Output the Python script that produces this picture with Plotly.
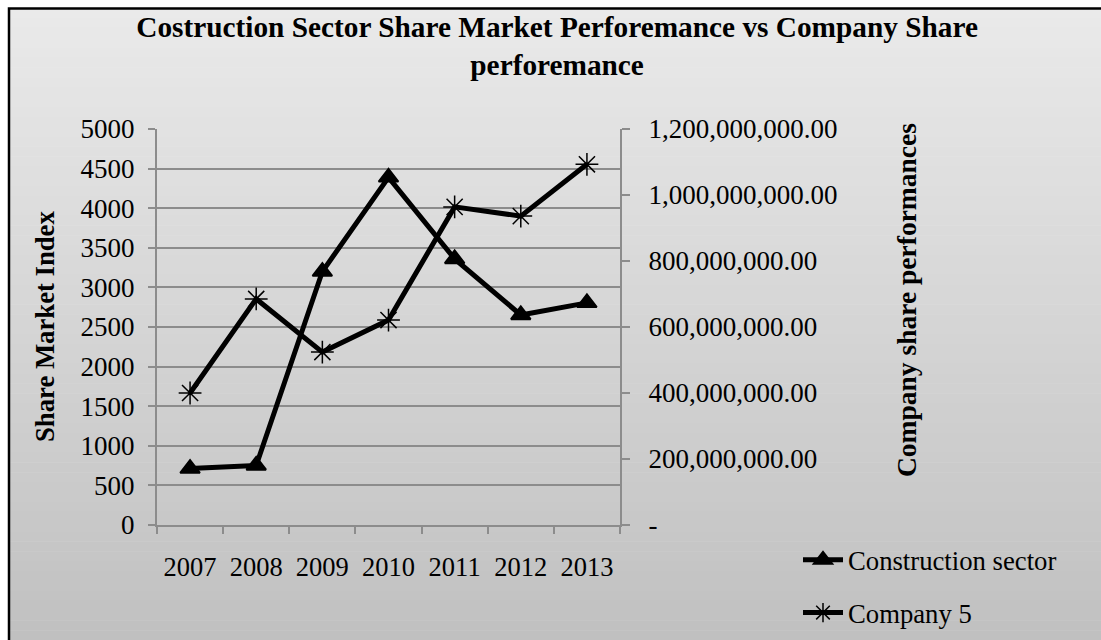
import plotly.graph_objects as go

years = ["2007", "2008", "2009", "2010", "2011", "2012", "2013"]
construction = [712, 752, 3200, 4390, 3360, 2652, 2805]
company5 = [400e6, 685e6, 524e6, 621e6, 964e6, 936e6, 1093e6]

left_ticks = list(range(0, 5001, 500))
right_tickvals = [0, 200e6, 400e6, 600e6, 800e6, 1000e6, 1200e6]
right_ticktext = ["-", "200,000,000.00", "400,000,000.00", "600,000,000.00",
                  "800,000,000.00", "1,000,000,000.00", "1,200,000,000.00"]

W, H = 1101, 640
L, R, T, B = 157, 481, 129, 115
PW, PH = W - L - R, H - T - B

def px(xp):
    return (xp - L) / PW

def py(yp):
    return (H - B - yp) / PH

FONT = "Liberation Serif, Times New Roman, serif"
GRID = "#8c8c8c"
TICK = 27

fig = go.Figure()
fig.add_trace(go.Scatter(
    x=years, y=construction, name="Construction sector", mode="lines+markers",
    line=dict(color="black", width=5),
    marker=dict(symbol="triangle-up", size=17, color="black",
                line=dict(color="black", width=2)),
    legendgroup="a", yaxis="y",
))
fig.add_trace(go.Scatter(
    x=years, y=company5, name="Company 5", mode="lines+markers",
    line=dict(color="black", width=5),
    marker=dict(symbol="asterisk-open", size=19, color="black",
                line=dict(color="black", width=1.5)),
    legendgroup="b", yaxis="y2",
))

# background gradient bands
shapes = []
n = 64
top, bot = 8, 640
for i in range(n):
    y0 = top + (bot - top) * i / n
    y1 = top + (bot - top) * (i + 1) / n + 0.5
    t = (i + 0.5) / n
    c = round(0xea + (0xc0 - 0xea) * t)
    shapes.append(dict(type="rect", xref="paper", yref="paper",
                       x0=px(8), x1=px(W + 5), y0=py(y1), y1=py(y0),
                       fillcolor=f"rgb({c},{c},{c})", line=dict(width=0),
                       layer="below"))
shapes.append(dict(type="rect", xref="paper", yref="paper",
                   x0=px(9), x1=px(W + 20), y0=py(H + 20), y1=py(8.5),
                   fillcolor="rgba(0,0,0,0)", line=dict(color="black", width=2.5),
                   layer="above"))

annotations = [
    dict(text="<b>Share Market Index</b>", textangle=-90, xref="paper", yref="paper",
         x=px(45), y=py(327), xanchor="center", yanchor="middle", showarrow=False,
         font=dict(family=FONT, size=26.7, color="black")),
    dict(text="<b>Company share performances</b>", textangle=-90, xref="paper", yref="paper",
         x=px(906), y=py(300), xanchor="center", yanchor="middle", showarrow=False,
         font=dict(family=FONT, size=27.5, color="black")),
]

fig.update_layout(
    width=W, height=H,
    margin=dict(l=L, r=R, t=T, b=B, pad=0, autoexpand=False),
    paper_bgcolor="white", plot_bgcolor="rgba(0,0,0,0)",
    font=dict(family=FONT, size=TICK, color="black"),
    title=dict(text="<b>Costruction Sector Share Market Perforemance vs Company Share<br>perforemance</b>",
               x=0.506, xanchor="center", xref="container",
               y=1 - 37 / H, yanchor="middle", yref="container",
               font=dict(family=FONT, size=29.3, color="black")),
    shapes=shapes,
    annotations=annotations,
    showlegend=True,
    legend=dict(xref="container", yref="container", x=798 / W, xanchor="left",
                y=1 - 536 / H, yanchor="top", bgcolor="rgba(0,0,0,0)",
                font=dict(family=FONT, size=26.7, color="black"),
                tracegroupgap=15, itemwidth=40),
    xaxis=dict(type="category", showgrid=False, showline=True, linecolor=GRID,
               linewidth=2, ticks="outside", ticklen=7, tickcolor=GRID,
               tickwidth=2, tickson="boundaries", ticklabelstandoff=17,
               tickangle=0, automargin=False, range=[-0.5, 6.5],
               tickfont=dict(size=TICK - 0.5)),
    yaxis=dict(range=[0, 5000], tickvals=left_ticks, showgrid=True,
               gridcolor=GRID, gridwidth=2, showline=True, linecolor=GRID,
               linewidth=2, ticks="outside", ticklen=7, tickcolor=GRID,
               tickwidth=2, ticklabelstandoff=8, zeroline=False, automargin=False),
    yaxis2=dict(range=[0, 1.2e9], overlaying="y", side="right",
                tickvals=right_tickvals, ticktext=right_ticktext,
                showgrid=False, showline=True, linecolor=GRID, linewidth=2,
                ticks="outside", ticklen=8, tickcolor=GRID, tickwidth=2,
                ticklabelstandoff=13, zeroline=False, automargin=False),
)

fig.write_html("out.html")
